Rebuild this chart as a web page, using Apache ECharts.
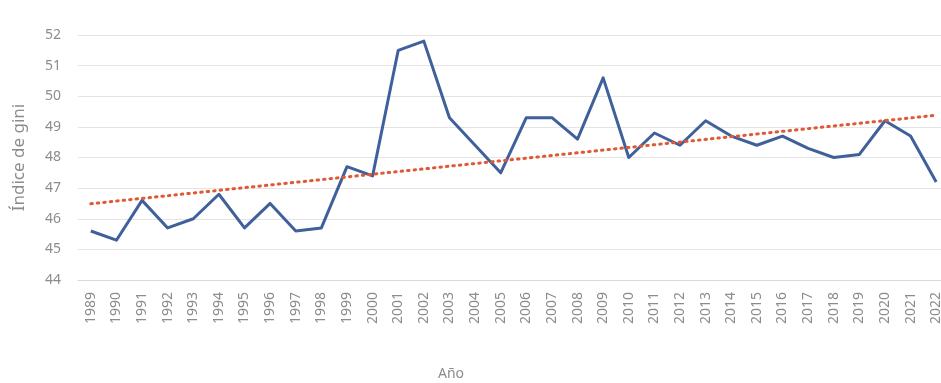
<!DOCTYPE html>
<html>
<head>
<meta charset="utf-8">
<script src="https://cdn.jsdelivr.net/npm/echarts@6/dist/echarts.min.js"></script>
<style>
  html, body { margin: 0; padding: 0; background: #ffffff; overflow: hidden; }
  /* the plot area continues a few pixels past the visible right edge */
  #chart { width: 949px; height: 383px; }
</style>
</head>
<body>
<div id="chart"></div>
<script>
// Years on the category axis
const years = ['1989','1990','1991','1992','1993','1994','1995','1996','1997','1998',
  '1999','2000','2001','2002','2003','2004','2005','2006','2007','2008',
  '2009','2010','2011','2012','2013','2014','2015','2016','2017','2018',
  '2019','2020','2021','2022'];

// Gini index per year
const gini = [45.6, 45.3, 46.6, 45.7, 46.0, 46.8, 45.7, 46.5, 45.6, 45.7,
  47.7, 47.4, 51.5, 51.8, 49.3, 48.4, 47.5, 49.3, 49.3, 48.6,
  50.6, 48.0, 48.8, 48.4, 49.2, 48.7, 48.4, 48.7, 48.3, 48.0,
  48.1, 49.2, 48.7, 47.2];

// Linear trend: value at the first and last year
const trendEnds = [46.49, 49.38];

// Y axis ticks
const yTicks = [44, 45, 46, 47, 48, 49, 50, 51, 52];

// Trend series: only the two end points, joined by one straight segment
const trendData = years.map((y, i) =>
  i === 0 ? trendEnds[0] : (i === years.length - 1 ? trendEnds[1] : null));

const grey = '#8c8c8c';
const font = 'Noto Sans';

const chart = echarts.init(document.getElementById('chart'), null, { renderer: 'canvas' });
chart.setOption({
  animation: false,
  backgroundColor: '#ffffff',
  grid: { left: 78, right: 0, top: 35, bottom: 103, containLabel: false },
  xAxis: {
    type: 'category',
    data: years,
    boundaryGap: true,
    axisLine: { show: true, lineStyle: { color: '#d9d9d9', width: 1 } },
    axisTick: { show: false },
    axisLabel: {
      rotate: 90, color: grey, fontFamily: font, fontSize: 14,
      interval: 0, margin: 12
    },
    splitLine: { show: false }
  },
  yAxis: {
    type: 'value',
    min: yTicks[0],
    max: yTicks[yTicks.length - 1],
    interval: 1,
    name: 'Índice de gini',
    nameLocation: 'middle',
    nameGap: 50,
    nameRotate: 90,
    nameTextStyle: { color: grey, fontFamily: font, fontSize: 17 },
    axisLine: { show: false },
    axisTick: { show: false },
    axisLabel: { color: grey, fontFamily: font, fontSize: 14, margin: 17 },
    splitLine: { show: true, lineStyle: { color: '#e4e4e4', width: 1 } }
  },
  graphic: [{
    type: 'text',
    x: 451,
    y: 374,
    style: {
      text: 'Año', fill: grey, font: '14px "Noto Sans"',
      align: 'center', verticalAlign: 'middle'
    }
  }],
  series: [
    {
      name: 'Índice de gini',
      type: 'line',
      data: gini,
      symbol: 'none',
      lineStyle: { color: '#40609b', width: 3, join: 'round' },
      z: 2
    },
    {
      name: 'Lineal',
      type: 'line',
      data: trendData,
      connectNulls: true,
      symbol: 'none',
      lineStyle: { color: '#de5a36', width: 3, type: [1.5, 5], cap: 'round' },
      z: 3
    }
  ]
});
</script>
</body>
</html>
